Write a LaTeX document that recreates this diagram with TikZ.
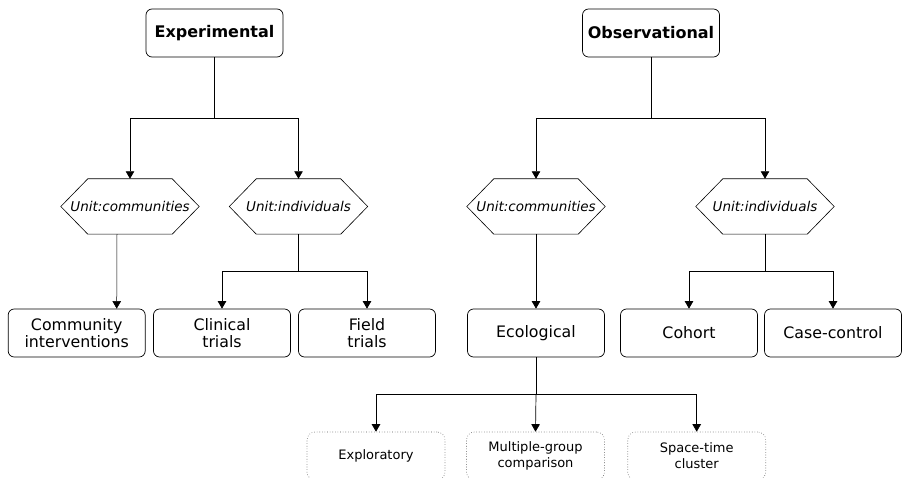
\documentclass[tikz,border=0pt]{standalone}
\usepackage{fontspec}
\setmainfont{DejaVu Sans}
\usetikzlibrary{arrows.meta}

\tikzset{
  mainbox/.style={draw, rounded corners=6pt, minimum width=137pt, minimum height=48pt,
    inner sep=1pt, align=center, line width=0.7pt, font=\fontsize{15.8}{17.5}\selectfont},
  topbox/.style={mainbox, font=\fontsize{16}{18}\selectfont\bfseries},
  unitbox/.style={minimum width=138pt, minimum height=55pt, inner sep=0pt,
    font=\fontsize{13.5}{16}\selectfont\itshape},
  subbox/.style={draw=gray!70!black, line width=0.6pt, dotted, rounded corners=8pt,
    minimum width=138pt, minimum height=48pt, inner sep=1pt, align=center,
    font=\fontsize{13}{16}\selectfont},
  link/.style={line width=0.7pt},
  arr/.style={link, -{Triangle[width=8.5pt,length=7.5pt]}},
}

\begin{document}
\begin{tikzpicture}[x=1pt,y=-1pt]

      \useasboundingbox (0,0) rectangle (902,478);
      \clip (0,0) rectangle (902,478);

      % top level
      \node[topbox] (exp) at (214.5,33) {Experimental};
      \node[topbox] (obs) at (651,33)   {Observational};

      % unit of study
      \node[unitbox] (com1) at (130,206.5) {Unit:communities};
      \node[unitbox] (ind1) at (298.5,206.5) {Unit:individuals};
      \node[unitbox] (com2) at (536,206.5) {Unit:communities};
      \node[unitbox] (ind2) at (765,206.5) {Unit:individuals};

      \foreach \h in {com1,ind1,com2,ind2}
        \draw[line width=0.6pt] (\h.west) -- ([xshift=27pt]\h.north west)
          -- ([xshift=-27pt]\h.north east) -- (\h.east)
          -- ([xshift=-27pt]\h.south east) -- ([xshift=27pt]\h.south west) -- cycle;

      % study designs
      \node[mainbox] (comint) at (76.7,333) {Community\\interventions};
      \node[mainbox] (clin)   at (222,333)  {Clinical\\trials};
      \node[mainbox] (field)  at (367,333)  {Field\\trials};
      \node[mainbox] (eco)    at (536,333)  {Ecological};
      \node[mainbox] (coh)    at (689,333)  {Cohort};
      \node[mainbox] (cc)     at (833,333)  {Case-control};

      % ecological sub-types
      \node[subbox] (explo) at (376,456)   {Exploratory};
      \node[subbox] (multi) at (535.5,456) {Multiple-group\\comparison};
      \node[subbox] (space) at (696.7,456) {Space-time\\cluster};

      % junctions
      \coordinate (jexp) at (214.5,118);
      \coordinate (jobs) at (651,118);
      \coordinate (jind1) at (298.5,271);
      \coordinate (jind2) at (765,271);
      \coordinate (jeco) at (536,394);

      \draw[link] (exp) -- (jexp);
      \draw[arr] (jexp) -| (com1.north);
      \draw[arr] (jexp) -| (ind1.north);

      \draw[link] (obs) -- (jobs);
      \draw[arr] (jobs) -| (com2.north);
      \draw[arr] (jobs) -| (ind2.north);

      \draw[arr, line width=0.5pt] ([xshift=-13pt]com1.south) -- ([xshift=40pt]comint.north);

      \draw[link] (ind1) -- (jind1);
      \draw[arr] (jind1) -| (clin.north);
      \draw[arr] (jind1) -| (field.north);

      \draw[arr] (com2) -- (eco);

      \draw[link] (ind2) -- (jind2);
      \draw[arr] (jind2) -| (coh.north);
      \draw[arr] (jind2) -| (cc.north);

      \draw[link] (eco) -- (jeco);
      \draw[arr] (jeco) -| (explo.north);
      \draw[arr] (jeco) -- (multi.north);
      \draw[arr] (jeco) -| (space.north);

    \end{tikzpicture}
\end{document}
